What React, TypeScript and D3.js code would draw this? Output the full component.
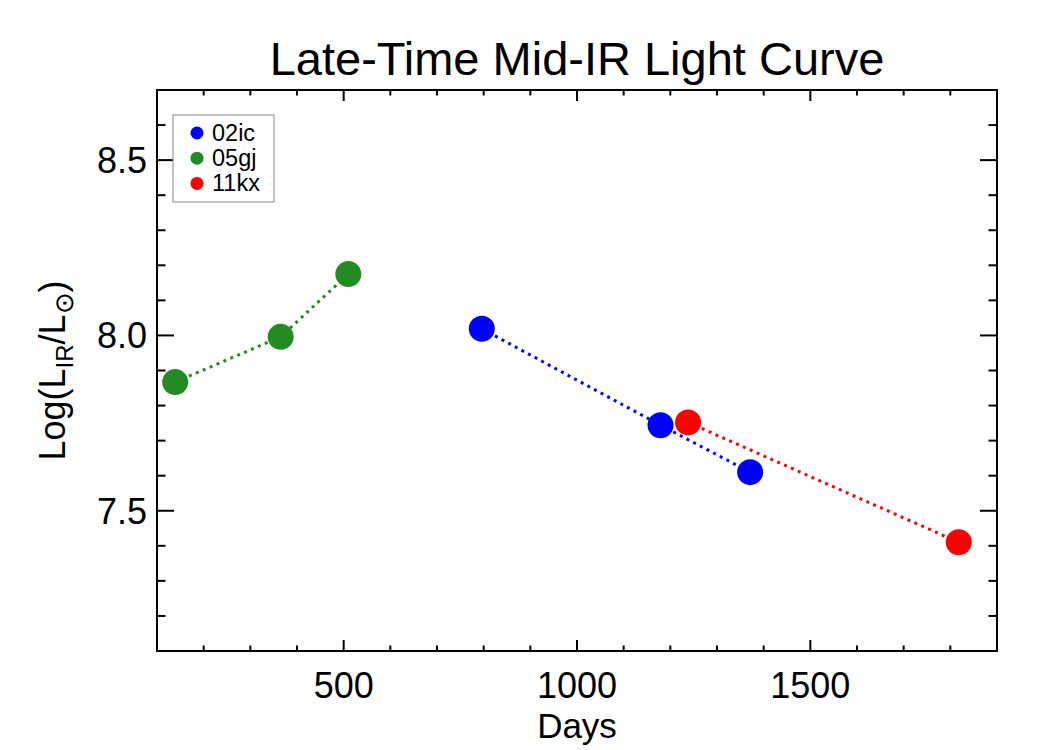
import React from "react";
import * as d3 from "d3";

const seriesNames = ["02ic", "05gj", "11kx"];
const seriesColors = ["#0000ff", "#228b22", "#ff0000"];
const days02ic = [796, 1179, 1371];
const lum02ic = [8.019, 7.744, 7.61];
const days05gj = [139, 365, 510];
const lum05gj = [7.867, 7.996, 8.175];
const days11kx = [1238, 1818];
const lum11kx = [7.752, 7.41];
const xMajorTicks = [500, 1000, 1500];
const yMajorTicks = [7.5, 8.0, 8.5];

const W = 1050;
const H = 750;
const L = 157, R = 997, T = 90, B = 651;

export default function App() {
  const x = d3.scaleLinear().domain([100, 1900]).range([L, R]);
  const y = d3.scaleLinear().domain([7.1, 8.7]).range([B, T]);
  const series = [
    { name: seriesNames[0], color: seriesColors[0], d: days02ic, v: lum02ic },
    { name: seriesNames[1], color: seriesColors[1], d: days05gj, v: lum05gj },
    { name: seriesNames[2], color: seriesColors[2], d: days11kx, v: lum11kx },
  ];
  const line = d3
    .line<[number, number]>()
    .x((p) => x(p[0]))
    .y((p) => y(p[1]));

  const xMinor = d3.range(200, 1900, 100).filter((t) => !xMajorTicks.includes(t));
  const yMinor = d3
    .range(72, 87, 1)
    .map((t) => t / 10)
    .filter((t) => !yMajorTicks.some((m) => Math.abs(m - t) < 1e-6));

  const xMajLen = 11, xMinLen = 5.5, yMajLen = 17, yMinLen = 8.5;
  const font = "Liberation Sans, Arial, Helvetica, sans-serif";

  return (
    <svg
      width={W}
      height={H}
      style={{ position: "absolute", left: 0, top: 0, background: "#fff" }}
      fontFamily={font}
    >
      <rect x={0} y={0} width={W} height={H} fill="#fff" />
      {/* title */}
      <text x={(L + R) / 2} y={75} textAnchor="middle" fontSize={47} fill="#000">
        Late-Time Mid-IR Light Curve
      </text>

      {/* lines */}
      {series.map((s) => (
        <path
          key={"l" + s.name}
          d={line(s.d.map((dd, i) => [dd, s.v[i]] as [number, number])) || ""}
          fill="none"
          stroke={s.color}
          strokeWidth={3}
          strokeDasharray="3 4.5"
        />
      ))}
      {/* markers */}
      {series.map((s) =>
        s.d.map((dd, i) => (
          <circle key={s.name + i} cx={x(dd)} cy={y(s.v[i])} r={13} fill={s.color} />
        ))
      )}

      {/* axes box */}
      <rect x={L} y={T} width={R - L} height={B - T} fill="none" stroke="#000" strokeWidth={2} />

      {/* x ticks */}
      {xMajorTicks.map((t) => (
        <g key={"xm" + t}>
          <line x1={x(t)} x2={x(t)} y1={B} y2={B - xMajLen} stroke="#000" strokeWidth={2} />
          <line x1={x(t)} x2={x(t)} y1={T} y2={T + xMajLen} stroke="#000" strokeWidth={2} />
          <text x={x(t)} y={698} textAnchor="middle" fontSize={36} fill="#000">
            {t}
          </text>
        </g>
      ))}
      {xMinor.map((t) => (
        <g key={"xn" + t}>
          <line x1={x(t)} x2={x(t)} y1={B} y2={B - xMinLen} stroke="#000" strokeWidth={2} />
          <line x1={x(t)} x2={x(t)} y1={T} y2={T + xMinLen} stroke="#000" strokeWidth={2} />
        </g>
      ))}

      {/* y ticks */}
      {yMajorTicks.map((t) => (
        <g key={"ym" + t}>
          <line x1={L} x2={L + yMajLen} y1={y(t)} y2={y(t)} stroke="#000" strokeWidth={2} />
          <line x1={R} x2={R - yMajLen} y1={y(t)} y2={y(t)} stroke="#000" strokeWidth={2} />
          <text x={147} y={y(t) + 13} textAnchor="end" fontSize={36} fill="#000">
            {t.toFixed(1)}
          </text>
        </g>
      ))}
      {yMinor.map((t) => (
        <g key={"yn" + t}>
          <line x1={L} x2={L + yMinLen} y1={y(t)} y2={y(t)} stroke="#000" strokeWidth={2} />
          <line x1={R} x2={R - yMinLen} y1={y(t)} y2={y(t)} stroke="#000" strokeWidth={2} />
        </g>
      ))}

      {/* axis titles */}
      <text x={(L + R) / 2} y={738} textAnchor="middle" fontSize={35} fill="#000">
        Days
      </text>
      <text
        transform={`translate(65, ${(T + B) / 2}) rotate(-90)`}
        textAnchor="middle"
        fontSize={36}
        fill="#000"
      >
        Log(L
        <tspan fontSize={24} dy={8}>IR</tspan>
        <tspan dy={-8}>/L</tspan>
        <tspan fontSize={26} dy={8}>⊙</tspan>
        <tspan dy={-8}>)</tspan>
      </text>

      {/* legend */}
      <rect x={173} y={115} width={101} height={87} fill="#fff" stroke="#888" strokeWidth={1} />
      {series.map((s, i) => (
        <g key={"lg" + s.name}>
          <circle cx={197} cy={133 + i * 25.2} r={6.5} fill={s.color} />
          <text x={212} y={133 + i * 25.2 + 8} fontSize={23.5} fill="#000">
            {s.name}
          </text>
        </g>
      ))}
    </svg>
  );
}
